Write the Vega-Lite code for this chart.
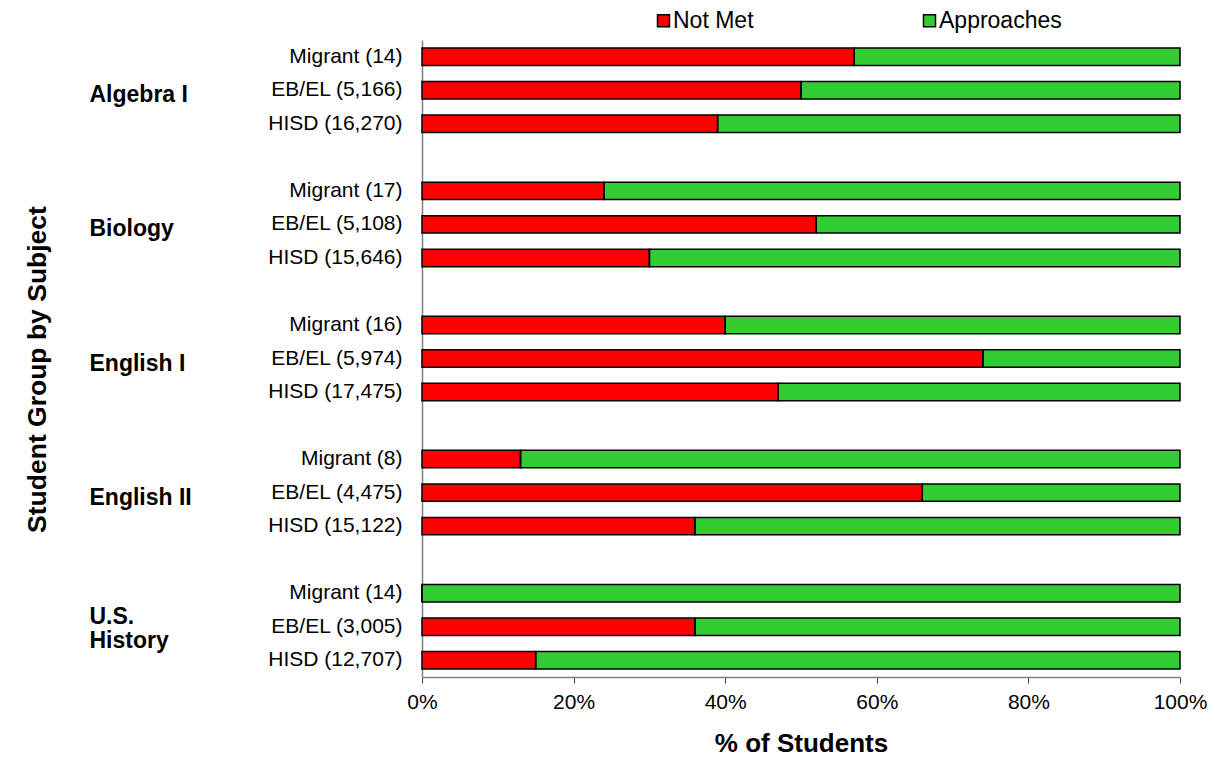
{
  "$schema": "https://vega.github.io/schema/vega-lite/v6.json",
  "width": 758,
  "height": 637,
  "autosize": "none",
  "padding": {"left": 422, "top": 40, "right": 35, "bottom": 82},
  "background": "white",
  "config": {"view": {"stroke": null}, "font": "Liberation Sans"},
  "data": {
    "values": [
      {"key": "Algebra I|Migrant (14)", "status": "Not Met", "pct": 57},
      {"key": "Algebra I|Migrant (14)", "status": "Approaches", "pct": 43},
      {"key": "Algebra I|EB/EL (5,166)", "status": "Not Met", "pct": 50},
      {"key": "Algebra I|EB/EL (5,166)", "status": "Approaches", "pct": 50},
      {"key": "Algebra I|HISD (16,270)", "status": "Not Met", "pct": 39},
      {"key": "Algebra I|HISD (16,270)", "status": "Approaches", "pct": 61},
      {"key": "Biology|Migrant (17)", "status": "Not Met", "pct": 24},
      {"key": "Biology|Migrant (17)", "status": "Approaches", "pct": 76},
      {"key": "Biology|EB/EL (5,108)", "status": "Not Met", "pct": 52},
      {"key": "Biology|EB/EL (5,108)", "status": "Approaches", "pct": 48},
      {"key": "Biology|HISD (15,646)", "status": "Not Met", "pct": 30},
      {"key": "Biology|HISD (15,646)", "status": "Approaches", "pct": 70},
      {"key": "English I|Migrant (16)", "status": "Not Met", "pct": 40},
      {"key": "English I|Migrant (16)", "status": "Approaches", "pct": 60},
      {"key": "English I|EB/EL (5,974)", "status": "Not Met", "pct": 74},
      {"key": "English I|EB/EL (5,974)", "status": "Approaches", "pct": 26},
      {"key": "English I|HISD (17,475)", "status": "Not Met", "pct": 47},
      {"key": "English I|HISD (17,475)", "status": "Approaches", "pct": 53},
      {"key": "English II|Migrant (8)", "status": "Not Met", "pct": 13},
      {"key": "English II|Migrant (8)", "status": "Approaches", "pct": 87},
      {"key": "English II|EB/EL (4,475)", "status": "Not Met", "pct": 66},
      {"key": "English II|EB/EL (4,475)", "status": "Approaches", "pct": 34},
      {"key": "English II|HISD (15,122)", "status": "Not Met", "pct": 36},
      {"key": "English II|HISD (15,122)", "status": "Approaches", "pct": 64},
      {"key": "U.S. History|Migrant (14)", "status": "Not Met", "pct": 0},
      {"key": "U.S. History|Migrant (14)", "status": "Approaches", "pct": 100},
      {"key": "U.S. History|EB/EL (3,005)", "status": "Not Met", "pct": 36},
      {"key": "U.S. History|EB/EL (3,005)", "status": "Approaches", "pct": 64},
      {"key": "U.S. History|HISD (12,707)", "status": "Not Met", "pct": 15},
      {"key": "U.S. History|HISD (12,707)", "status": "Approaches", "pct": 85}
    ]
  },
  "encoding": {
    "x": {
      "field": "pct",
      "type": "quantitative",
      "stack": "zero",
      "title": "% of Students",
      "scale": {"domain": [0, 100], "nice": false},
      "axis": {
        "values": [0, 20, 40, 60, 80, 100],
        "labelExpr": "datum.value + '%'",
        "grid": false,
        "domainColor": "#808080",
        "domainWidth": 1.5,
        "tickColor": "#404040",
        "tickSize": 6,
        "tickWidth": 1,
        "labelFontSize": 21,
        "labelColor": "black",
        "labelPadding": 8,
        "labelFlush": false,
        "titleFontSize": 26,
        "titleFontWeight": "bold",
        "titleColor": "black",
        "titlePadding": 18
      }
    },
    "order": {"field": "status", "sort": "descending"}
  },
  "layer": [
    {
      "mark": {"type": "bar", "strokeWidth": 0},
      "encoding": {
        "y": {
          "field": "key",
          "type": "nominal",
          "sort": null,
          "scale": {
            "domain": [
              "Algebra I|Migrant (14)", "Algebra I|EB/EL (5,166)", "Algebra I|HISD (16,270)", "gap1|",
              "Biology|Migrant (17)", "Biology|EB/EL (5,108)", "Biology|HISD (15,646)", "gap2|",
              "English I|Migrant (16)", "English I|EB/EL (5,974)", "English I|HISD (17,475)", "gap3|",
              "English II|Migrant (8)", "English II|EB/EL (4,475)", "English II|HISD (15,122)", "gap4|",
              "U.S. History|Migrant (14)", "U.S. History|EB/EL (3,005)", "U.S. History|HISD (12,707)"
            ],
            "paddingInner": 0.48,
            "paddingOuter": 0.24
          },
          "axis": {
            "orient": "left",
            "title": null,
            "labelExpr": "split(datum.value, '|')[1]",
            "labelFontSize": 21,
            "labelColor": "black",
            "labelPadding": 20,
            "labelLimit": 0,
            "ticks": false,
            "tickSize": 0,
            "domainColor": "#808080",
            "domainWidth": 1.5
          }
        },
        "color": {
          "field": "status",
          "type": "nominal",
          "scale": {"domain": ["Not Met", "Approaches"], "range": ["#FF0000", "#33CC33"]},
          "legend": {
            "orient": "none",
            "legendX": 230,
            "legendY": -31,
            "direction": "horizontal",
            "title": null,
            "symbolType": "square",
            "symbolSize": 144,
            "symbolStrokeColor": "black",
            "symbolStrokeWidth": 1.5,
            "symbolOpacity": 1,
            "labelFontSize": 23,
            "labelColor": "black",
            "labelOffset": -2,
            "columnPadding": 164
          }
        }
      }
    },
    {
      "mark": {"type": "bar", "filled": false, "color": "black", "strokeWidth": 1.5},
      "encoding": {
        "detail": {"field": "status"},
        "y": {
          "field": "key",
          "type": "nominal",
          "sort": null,
          "scale": {
            "domain": [
              "Algebra I|Migrant (14)", "Algebra I|EB/EL (5,166)", "Algebra I|HISD (16,270)", "gap1|",
              "Biology|Migrant (17)", "Biology|EB/EL (5,108)", "Biology|HISD (15,646)", "gap2|",
              "English I|Migrant (16)", "English I|EB/EL (5,974)", "English I|HISD (17,475)", "gap3|",
              "English II|Migrant (8)", "English II|EB/EL (4,475)", "English II|HISD (15,122)", "gap4|",
              "U.S. History|Migrant (14)", "U.S. History|EB/EL (3,005)", "U.S. History|HISD (12,707)"
            ],
            "paddingInner": 0.48,
            "paddingOuter": 0.24
          },
          "axis": {
            "orient": "left",
            "offset": 333,
            "title": "Student Group by Subject",
            "titleFontSize": 26.5,
            "titleFontWeight": "bold",
            "titleColor": "black",
            "titlePadding": 38,
            "titleY": 329,
            "labelExpr": "indexof(datum.value, 'EB/EL') < 0 ? '' : (indexof(datum.value, 'U.S.') == 0 ? ['U.S.', 'History'] : split(datum.value, '|')[0])",
            "labelAlign": "left",
            "labelBaseline": "middle",
            "labelFontSize": 23,
            "labelFontWeight": "bold",
            "labelColor": "black",
            "labelLineHeight": 24,
            "labelOffset": {"condition": {"test": "indexof(datum.value, 'U.S.') == 0", "value": -10}, "value": 5},
            "labelPadding": 0,
            "labelLimit": 0,
            "ticks": false,
            "tickSize": 0,
            "domain": false
          }
        }
      }
    }
  ],
  "resolve": {"axis": {"y": "independent"}}
}
